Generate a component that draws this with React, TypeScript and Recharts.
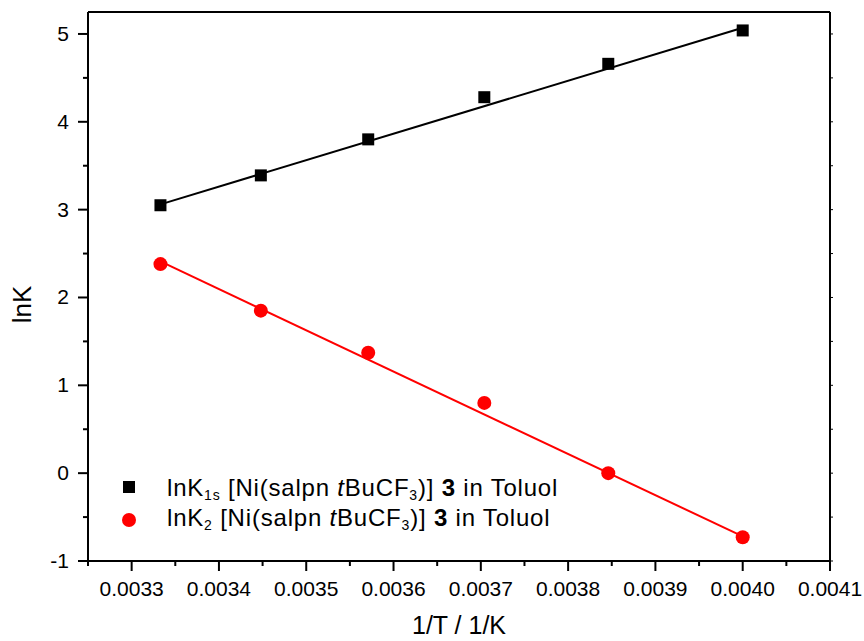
import { ComposedChart, Line, Scatter, XAxis, YAxis, Legend } from "recharts";

const FONT = "'Liberation Sans', Arial, Helvetica, sans-serif";

// 1/T values (1/K) and measured lnK values
const invT = [0.003333, 0.003448, 0.003571, 0.003704, 0.003846, 0.004];
const lnK1s = [3.05, 3.39, 3.8, 4.28, 4.66, 5.04];
const lnK2 = [2.38, 1.85, 1.37, 0.8, 0.0, -0.73];

// linear fits, read at the ends of the data range
const fitInvT = [0.003333, 0.004];
const fitK1s = [3.06, 5.07];
const fitK2 = [2.41, -0.72];

const xTicks = [
  0.00325, 0.0033, 0.00335, 0.0034, 0.00345, 0.0035, 0.00355, 0.0036, 0.00365,
  0.0037, 0.00375, 0.0038, 0.00385, 0.0039, 0.00395, 0.004, 0.00405, 0.0041,
];
const yTicks = [-1, -0.5, 0, 0.5, 1, 1.5, 2, 2.5, 3, 3.5, 4, 4.5, 5];

const k1sData = invT.map((x, i) => ({ x, y: lnK1s[i] }));
const k2Data = invT.map((x, i) => ({ x, y: lnK2[i] }));
const fit1sData = fitInvT.map((x, i) => ({ x, y: fitK1s[i] }));
const fit2Data = fitInvT.map((x, i) => ({ x, y: fitK2[i] }));

const isMajorX = (v: number) => Math.round(v * 1e5) % 10 === 0;
const isMajorY = (v: number) => Number.isInteger(v);

const BottomTick = ({ x, y, payload }: any) => {
  const major = isMajorX(payload.value);
  return (
    <g>
      <line x1={x} x2={x} y1={y} y2={y + (major ? 10 : 5)} stroke="#000" strokeWidth={2} />
      {major && (
        <text x={x} y={y + 35} textAnchor="middle" fontSize={21} fontFamily={FONT} fill="#000">
          {payload.value.toFixed(4)}
        </text>
      )}
    </g>
  );
};

const LeftTick = ({ x, y, payload }: any) => {
  const major = isMajorY(payload.value);
  return (
    <g>
      <line x1={x} x2={x - (major ? 10 : 5)} y1={y} y2={y} stroke="#000" strokeWidth={2} />
      {major && (
        <text x={x - 19} y={y + 7} textAnchor="end" fontSize={21} fontFamily={FONT} fill="#000">
          {payload.value}
        </text>
      )}
    </g>
  );
};

const TopTick = ({ x, y }: any) => (
  <line x1={x} x2={x} y1={y} y2={y - 3} stroke="#000" strokeWidth={1} />
);

const RightTick = ({ x, y }: any) => (
  <line x1={x} x2={x + 3} y1={y} y2={y} stroke="#000" strokeWidth={1} />
);

const SquareDot = ({ cx, cy }: any) => (
  <rect x={cx - 6} y={cy - 6} width={12} height={12} fill="#000" />
);

const RoundDot = ({ cx, cy }: any) => <circle cx={cx} cy={cy} r={7} fill="#ff0000" />;

const YLabel = ({ viewBox }: any) => {
  const cx = viewBox.x + 31;
  const cy = viewBox.y + viewBox.height / 2 + 18;
  return (
    <text
      x={cx}
      y={cy}
      transform={`rotate(-90 ${cx} ${cy})`}
      textAnchor="middle"
      fontSize={26}
      fontFamily={FONT}
      fill="#000"
    >
      lnK
    </text>
  );
};

const XLabel = ({ viewBox }: any) => (
  <text
    x={viewBox.x + viewBox.width / 2}
    y={viewBox.y + 73}
    textAnchor="middle"
    fontSize={25}
    fontFamily={FONT}
    fill="#000"
  >
    1/T / 1/K
  </text>
);

const subStyle = { fontSize: 14, verticalAlign: -4, lineHeight: 0 };

const LegendBox = () => (
  <div
    style={{
      fontFamily: FONT,
      fontSize: 24,
      letterSpacing: 0.8,
      color: "#000",
      lineHeight: "30px",
      whiteSpace: "nowrap",
    }}
  >
    <div style={{ position: "relative", height: 30, paddingLeft: 57 }}>
      <svg width={14} height={14} style={{ position: "absolute", left: 12, top: 7 }}>
        <rect x={1} y={1} width={12} height={12} fill="#000" />
      </svg>
      lnK<sub style={subStyle}>1s</sub> [Ni(salpn <i>t</i>BuCF<sub style={subStyle}>3</sub>)] <b>3</b> in Toluol
    </div>
    <div style={{ position: "relative", height: 30, paddingLeft: 57 }}>
      <svg width={14} height={14} style={{ position: "absolute", left: 12, top: 10 }}>
        <circle cx={7} cy={7} r={7} fill="#ff0000" />
      </svg>
      lnK<sub style={subStyle}>2</sub> [Ni(salpn <i>t</i>BuCF<sub style={subStyle}>3</sub>)] <b>3</b> in Toluol
    </div>
  </div>
);

export default function App() {
  return (
    <div style={{ position: "absolute", left: 0, top: 0, background: "#fff" }}>
      <ComposedChart width={864} height={641} margin={{ top: 12, right: 34, bottom: 0, left: 0 }}>
        <XAxis
          dataKey="x"
          type="number"
          domain={[0.00325, 0.0041]}
          allowDataOverflow
          ticks={xTicks}
          interval={0}
          tickSize={0}
          tickMargin={0}
          tickLine={false}
          tick={<BottomTick />}
          axisLine={{ stroke: "#000", strokeWidth: 2 }}
          height={80}
          label={<XLabel />}
        />
        <XAxis
          xAxisId="top"
          orientation="top"
          mirror
          type="number"
          domain={[0.00325, 0.0041]}
          allowDataOverflow
          ticks={xTicks}
          interval={0}
          tickSize={0}
          tickMargin={0}
          tickLine={false}
          tick={<TopTick />}
          axisLine={{ stroke: "#000", strokeWidth: 2 }}
        />
        <YAxis
          type="number"
          domain={[-1, 5.25]}
          allowDataOverflow
          ticks={yTicks}
          interval={0}
          tickSize={0}
          tickMargin={0}
          tickLine={false}
          tick={<LeftTick />}
          axisLine={{ stroke: "#000", strokeWidth: 2 }}
          width={88}
          label={<YLabel />}
        />
        <YAxis
          yAxisId="right"
          orientation="right"
          mirror
          type="number"
          domain={[-1, 5.25]}
          allowDataOverflow
          ticks={yTicks}
          interval={0}
          tickSize={0}
          tickMargin={0}
          tickLine={false}
          tick={<RightTick />}
          axisLine={{ stroke: "#000", strokeWidth: 2 }}
        />
        <Legend
          layout="vertical"
          align="center"
          verticalAlign="middle"
          content={<LegendBox />}
          wrapperStyle={{ left: 110, top: 473, width: 560, height: 62 }}
        />
        <Line
          data={fit1sData}
          dataKey="y"
          type="linear"
          stroke="#000"
          strokeWidth={2}
          dot={false}
          activeDot={false}
          isAnimationActive={false}
          legendType="none"
        />
        <Line
          data={fit2Data}
          dataKey="y"
          type="linear"
          stroke="#ff0000"
          strokeWidth={2}
          dot={false}
          activeDot={false}
          isAnimationActive={false}
          legendType="none"
        />
        <Scatter data={k1sData} dataKey="y" shape={<SquareDot />} isAnimationActive={false} />
        <Scatter data={k2Data} dataKey="y" shape={<RoundDot />} isAnimationActive={false} />
      </ComposedChart>
    </div>
  );
}
